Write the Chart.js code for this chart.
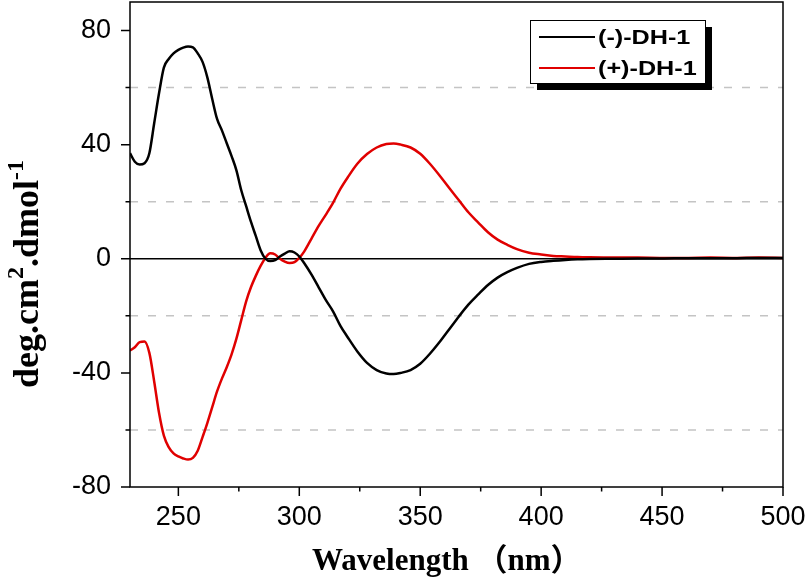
<!DOCTYPE html>
<html>
<head>
<meta charset="utf-8">
<script src="https://cdn.jsdelivr.net/npm/chart.js@4.4.1/dist/chart.umd.min.js"></script>
<style>
  html, body { margin: 0; padding: 0; background: #fff; }
  #wrap { width: 807px; height: 584px; position: relative; }
</style>
</head>
<body>
<div id="wrap"><canvas id="cd"></canvas></div>
<script>
// wavelength grid (nm) and CD values
const wavelength = [230, 232, 234, 236, 238, 240, 242, 244, 246, 248, 250, 252, 254, 256, 258, 260, 262, 264, 266, 268,
  270, 272, 274, 276, 278, 280, 282, 284, 286, 288, 290, 292, 294, 296, 298, 300, 302, 305, 308, 311,
  314, 317, 320, 324, 328, 332, 336, 339, 342, 346, 350, 354, 358, 362, 366, 370, 374, 378, 382, 386,
  390, 395, 400, 405, 410, 415, 420, 430, 440, 450, 460, 470, 480, 490, 500];

const minusDH1 = [37, 34, 33, 33.5, 37, 47.5, 58, 67, 70, 72, 73.2, 74, 74.4, 74.1, 72, 69, 63.5, 56, 49, 45,
  40.5, 36, 31, 24, 18.5, 13, 8, 3, 0, -0.8, -0.5, 0.8, 1.8, 2.6, 2.2, 0.8, -1.5, -5.5, -10, -14.5,
  -18.5, -23.5, -27.5, -32.5, -36.5, -39, -40.2, -40.4, -40, -39, -36.8, -33.3, -29.2, -24.7, -20.2, -16, -12.5, -9.2, -6.6, -4.7,
  -3.2, -1.8, -1.1, -0.7, -0.4, -0.2, -0.1, 0, 0.1, 0.1, 0.2, 0.2, 0.2, 0.3, 0.3];

const plusDH1 = [-32.2, -31, -29.2, -29, -33, -43, -54, -62, -66, -68.2, -69.3, -70, -70.4, -69.8, -67.3, -62.5, -57.5, -52, -46.5, -42,
  -38, -33.5, -28, -21.5, -15, -10, -6, -2.5, 0.3, 1.9, 1.5, 0, -1, -1.5, -1.2, 0.3, 2.5, 7, 11.5, 15.5,
  19.7, 24.5, 28.5, 33.3, 36.7, 39, 40.2, 40.4, 40, 39, 36.8, 33.3, 29.2, 24.8, 20.5, 16.2, 12.7, 9.3, 6.7, 4.9,
  3.4, 2.1, 1.5, 1.0, 0.8, 0.6, 0.5, 0.4, 0.4, 0.3, 0.3, 0.4, 0.3, 0.4, 0.3];

const xTicks = [250, 300, 350, 400, 450, 500];
const xMinor = [275, 325, 375, 425, 475];
const yTicks = [-80, -40, 0, 40, 80];
const yMinor = [-60, -20, 20, 60];

const seriesNames = ['(-)-DH-1', '(+)-DH-1'];
const seriesColors = ['#000000', '#e00000'];

const toPoints = vals => wavelength.map((w, i) => ({ x: w, y: vals[i] }));

// grid lines, frame, minor ticks, legend and axis titles
const framePlugin = {
  id: 'frame',
  beforeDatasetsDraw(chart) {
    const { ctx, chartArea: a, scales: { y } } = chart;
    ctx.save();
    ctx.strokeStyle = '#c4c4c4';
    ctx.lineWidth = 1.5;
    ctx.setLineDash([8, 10]);
    yMinor.forEach(v => {
      const py = y.getPixelForValue(v);
      ctx.beginPath(); ctx.moveTo(a.left, py); ctx.lineTo(a.right, py); ctx.stroke();
    });
    ctx.setLineDash([]);
    ctx.strokeStyle = '#000';
    ctx.lineWidth = 1.3;
    const z = y.getPixelForValue(0);
    ctx.beginPath(); ctx.moveTo(a.left, z); ctx.lineTo(a.right, z); ctx.stroke();
    ctx.restore();
  },
  afterDraw(chart) {
    const { ctx, chartArea: a, scales: { x, y } } = chart;
    ctx.save();
    // box
    ctx.strokeStyle = '#000';
    ctx.lineWidth = 1.5;
    ctx.strokeRect(a.left, a.top, a.right - a.left, a.bottom - a.top);
    // ticks
    ctx.beginPath();
    xTicks.forEach(v => { const px = x.getPixelForValue(v); ctx.moveTo(px, a.bottom); ctx.lineTo(px, a.bottom + 9); });
    xMinor.forEach(v => { const px = x.getPixelForValue(v); ctx.moveTo(px, a.bottom); ctx.lineTo(px, a.bottom + 4.5); });
    yTicks.forEach(v => { const py = y.getPixelForValue(v); ctx.moveTo(a.left, py); ctx.lineTo(a.left - 9, py); });
    yMinor.forEach(v => { const py = y.getPixelForValue(v); ctx.moveTo(a.left, py); ctx.lineTo(a.left - 4.5, py); });
    ctx.stroke();

    // legend with drop shadow
    const lx = 530, ly = 20, lw = 175, lh = 63;
    ctx.fillStyle = '#000';
    ctx.fillRect(lx + 7, ly + 7, lw, lh);
    ctx.fillStyle = '#fff';
    ctx.fillRect(lx, ly, lw, lh);
    ctx.lineWidth = 1;
    ctx.strokeRect(lx + 0.5, ly + 0.5, lw, lh);
    seriesNames.forEach((name, i) => {
      const ry = ly + 17 + i * 31;
      ctx.strokeStyle = seriesColors[i];
      ctx.lineWidth = 2;
      ctx.beginPath(); ctx.moveTo(lx + 9, ry); ctx.lineTo(lx + 65, ry); ctx.stroke();
      ctx.save();
      ctx.translate(lx + 68, ry + 1);
      ctx.scale(1.2, 1);
      ctx.fillStyle = '#000';
      ctx.font = 'bold 21px "Liberation Sans", Arial, sans-serif';
      ctx.textBaseline = 'middle';
      ctx.textAlign = 'left';
      ctx.fillText(name, 0, 0);
      ctx.restore();
    });

    // x title
    ctx.fillStyle = '#000';
    ctx.font = 'bold 31px "Liberation Serif", "Noto Sans CJK SC", serif';
    ctx.textBaseline = 'alphabetic';
    ctx.textAlign = 'left';
    ctx.fillText('Wavelength （nm）', 312, 570);

    // y title with superscripts
    ctx.translate(38, 388);
    ctx.rotate(-Math.PI / 2);
    const big = 'bold 36px "Liberation Serif", serif';
    const small = 'bold 24px "Liberation Serif", serif';
    const parts = [['deg.cm', big, 0], ['2', small, -15], ['.dmol', big, 0], ['-1', small, -15]];
    let cx = 0;
    parts.forEach(([t, f, dy]) => {
      ctx.font = f;
      ctx.fillText(t, cx, dy);
      cx += ctx.measureText(t).width;
    });
    ctx.restore();
  }
};

new Chart(document.getElementById('cd'), {
  type: 'line',
  data: {
    datasets: [
      { label: seriesNames[0], data: toPoints(minusDH1), borderColor: seriesColors[0], borderWidth: 2.5, pointRadius: 0, cubicInterpolationMode: 'monotone', fill: false },
      { label: seriesNames[1], data: toPoints(plusDH1), borderColor: seriesColors[1], borderWidth: 2.5, pointRadius: 0, cubicInterpolationMode: 'monotone', fill: false }
    ]
  },
  options: {
    responsive: true,
    maintainAspectRatio: false,
    animation: false,
    layout: { padding: { top: 2, right: 24, left: 0, bottom: 0 } },
    plugins: { legend: { display: false }, tooltip: { enabled: false } },
    scales: {
      x: {
        type: 'linear', min: 230, max: 500,
        afterBuildTicks: s => { s.ticks = xTicks.map(v => ({ value: v })); },
        afterFit: s => { s.height = 97; s.paddingLeft = 0; s.paddingRight = 0; },
        grid: { display: false, drawTicks: false },
        border: { display: false },
        ticks: { padding: 14, color: '#000', font: { family: '"Liberation Sans", Arial, sans-serif', size: 27 }, maxRotation: 0 }
      },
      y: {
        type: 'linear', min: -80, max: 90,
        afterBuildTicks: s => { s.ticks = yTicks.map(v => ({ value: v })); },
        afterFit: s => { s.width = 130; s.paddingTop = 0; s.paddingBottom = 0; },
        grid: { display: false, drawTicks: false },
        border: { display: false },
        ticks: { padding: 19, color: '#000', font: { family: '"Liberation Sans", Arial, sans-serif', size: 27 } }
      }
    }
  },
  plugins: [framePlugin]
});
</script>
</body>
</html>
